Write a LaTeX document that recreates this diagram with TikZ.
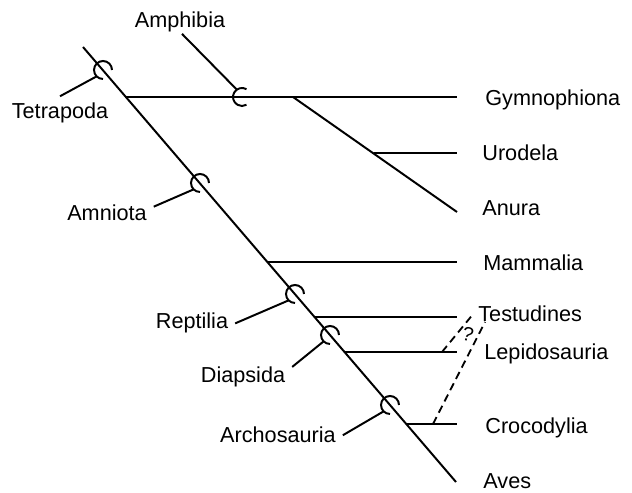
\documentclass[tikz,border=0pt]{standalone}
\usepackage{fontspec}
\setmainfont{Liberation Sans}
\usepackage{tikz}
\usetikzlibrary{arrows.meta}

\begin{document}
\begin{tikzpicture}[x=0.025cm, y=0.025cm, line width=1.4pt,
  taxon/.style={font=\fontsize{15.4pt}{18pt}\selectfont, inner sep=1pt},
  clade/.style={taxon, outer sep=4pt},
  guess/.style={line width=1.3pt, dash pattern=on 5.5pt off 3.5pt}]
\useasboundingbox (0,0) rectangle (632,493);

% stem and branch points
\coordinate (top) at (83,446);
\coordinate (bot) at (456,11);
\coordinate (tips) at (457,0);
\coordinate (gymb) at (126,396);
\coordinate (anub) at (293,396);
\coordinate (anue) at (457,281);
\coordinate (urob) at (374,340);
\coordinate (mamb) at (267,231);
\coordinate (tesb) at (315,176);
\coordinate (lepb) at (345,141);
\coordinate (crob) at (406,69);

% clade marks
\coordinate (tetr) at (103,423);
\coordinate (amph) at (242,396);
\coordinate (amni) at (200,310);
\coordinate (rept) at (295,199);
\coordinate (diap) at (330,158);
\coordinate (arch) at (390,88);

\draw (top) -- (bot);
\draw (gymb) -- (gymb -| tips);
\draw (anub) -- (anue);
\draw (urob) -- (urob -| tips);
\draw (mamb) -- (mamb -| tips);
\draw (tesb) -- (tesb -| tips);
\draw (lepb) -- (lepb -| tips);
\draw (crob) -- (crob -| tips);

\draw (tetr) ++(0:9) arc (0:270:9);
\draw (amni) ++(0:9) arc (0:270:9);
\draw (rept) ++(0:9) arc (0:270:9);
\draw (diap) ++(0:9) arc (0:270:9);
\draw (arch) ++(0:9) arc (0:270:9);
\draw (amph) ++(60:9) arc (60:300:9);

% taxa
\node[taxon, anchor=base west] (gymno) at (483,387) {Gymnophiona};
\node[taxon, anchor=base west] (urod) at (480,332) {Urodela};
\node[taxon, anchor=base west] (anura) at (480,277) {Anura};
\node[taxon, anchor=base west] (mamm) at (481,222) {Mammalia};
\node[taxon, anchor=base west] (testu) at (476,171) {Testudines};
\node[taxon, anchor=base west] (lepi) at (482,133) {Lepidosauria};
\node[taxon, anchor=base west] (croc) at (483,59) {Crocodylia};
\node[taxon, anchor=base west] (aves) at (481,4) {Aves};

% clade names
\node[clade, anchor=base] (tetrapoda) at (60,374) {Tetrapoda};
\node[clade, anchor=base, outer sep=0pt] (amphibia) at (180,465) {Amphibia};
\node[clade, anchor=base] (amniota) at (107,272) {Amniota};
\node[clade, anchor=base] (reptilia) at (192,164) {Reptilia};
\node[clade, anchor=base] (diapsida) at (243,110) {Diapsida};
\node[clade, anchor=base] (archosauria) at (278,50) {Archosauria};

\draw (tetrapoda.north) -- ([shift={(225:9)}]tetr);
\draw (amphibia.-80) -- ([shift={(125:9)}]amph);
\draw (amniota.8) -- ([shift={(225:9)}]amni);
\draw (reptilia.east) -- ([shift={(225:9)}]rept);
\draw (diapsida.12) -- ([shift={(225:9)}]diap);
\draw (archosauria.east) -- ([shift={(225:9)}]arch);

% turtle placement
\coordinate (lepq) at (442,141);
\coordinate (croq) at (433,69);
\coordinate (tesa) at (474,180);
\coordinate (tesc) at (485,171);
\draw[guess] (lepq) -- (tesa);
\draw[guess] (croq) -- (tesc);
\node[font=\fontsize{14pt}{16pt}\selectfont, inner sep=0pt, rotate=-15] (q) at (468,159) {?};
\end{tikzpicture}
\end{document}
